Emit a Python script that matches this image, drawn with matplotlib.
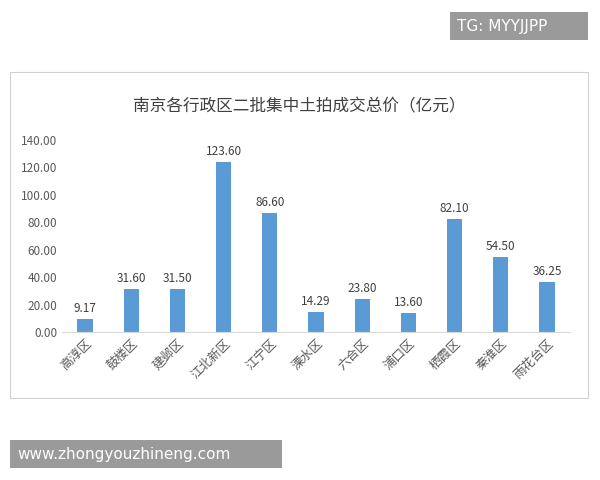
import matplotlib.pyplot as plt
from matplotlib.patches import Rectangle

plt.rcParams['font.family'] = ['Noto Sans CJK SC', 'DejaVu Sans']

districts = ['高淳区', '鼓楼区', '建邺区', '江北新区', '江宁区', '溧水区',
             '六合区', '浦口区', '栖霞区', '秦淮区', '雨花台区']
values = [9.17, 31.60, 31.50, 123.60, 86.60, 14.29, 23.80, 13.60, 82.10, 54.50, 36.25]

fig = plt.figure(figsize=(6, 4.8), dpi=100)

# chart frame
fig.patches.append(Rectangle((10 / 600, 1 - 398 / 480), 578 / 600, 326 / 480,
                             transform=fig.transFigure, fill=False,
                             edgecolor='#d0d0d0', linewidth=0.8))
# watermark boxes
fig.patches.append(Rectangle((450 / 600, 1 - 40 / 480), 138 / 600, 28 / 480,
                             transform=fig.transFigure, facecolor='#9a9a9a', edgecolor='none'))
fig.text(457 / 600, 1 - 26 / 480, 'TG: MYYJJPP', color='white', fontsize=11,
         ha='left', va='center', family='DejaVu Sans')
fig.patches.append(Rectangle((10 / 600, 1 - 468 / 480), 272 / 600, 28 / 480,
                             transform=fig.transFigure, facecolor='#9a9a9a', edgecolor='none'))
fig.text(17 / 600, 1 - 454 / 480, 'www.zhongyouzhineng.com', color='white', fontsize=11,
         ha='left', va='center', family='DejaVu Sans')

fig.text(299 / 600, 1 - 107 / 480, '南京各行政区二批集中土拍成交总价（亿元）',
         fontsize=12, color='#404040', ha='center', va='center')

ax = fig.add_axes([62 / 600, 1 - 332 / 480, 508 / 600, 192 / 480])
ax.bar(range(len(values)), values, width=0.33, color='#5b9bd5')
for i, v in enumerate(values):
    ax.text(i, v + 3, f'{v:.2f}', ha='center', va='bottom', fontsize=8.5, color='#404040')

ax.set_ylim(0, 140)
ax.set_xlim(-0.5, len(values) - 0.5)
ax.set_yticks(range(0, 141, 20))
ax.set_yticklabels([f'{t:.2f}' for t in range(0, 141, 20)], fontsize=8.5, color='#595959')
ax.set_xticks(range(len(values)))
ax.set_xticklabels(districts, rotation=45, ha='right', rotation_mode='anchor',
                   fontsize=9, color='#595959')
for s in ['top', 'right', 'left']:
    ax.spines[s].set_visible(False)
ax.spines['bottom'].set_color('#d9d9d9')
ax.tick_params(length=0)

fig.savefig('out.png', dpi=100)
